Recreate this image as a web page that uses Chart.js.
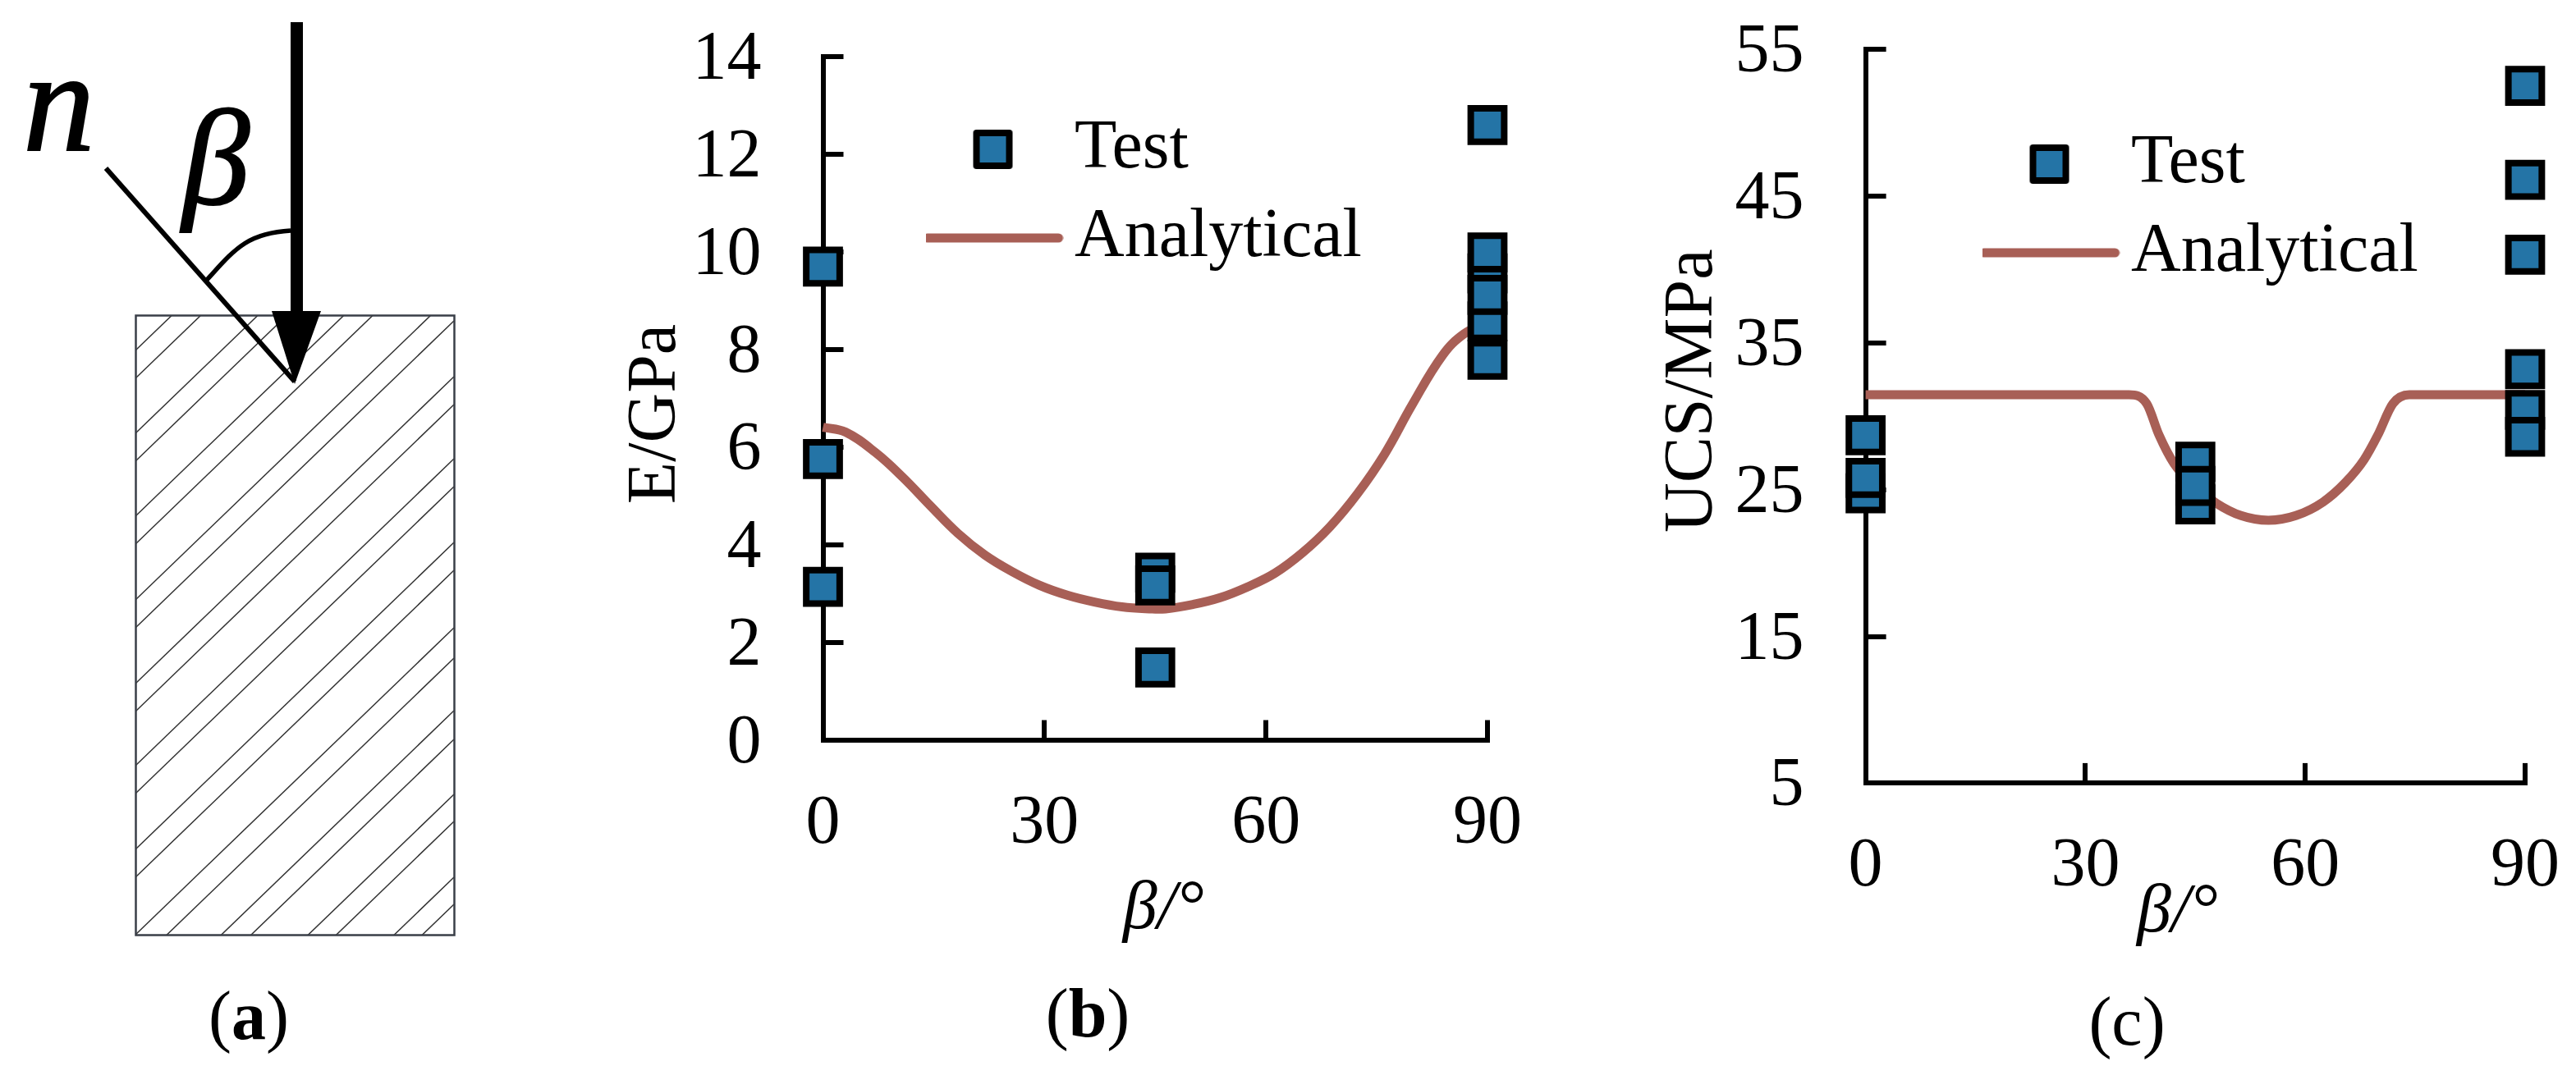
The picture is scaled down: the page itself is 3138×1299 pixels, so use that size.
<!DOCTYPE html>
<html><head><meta charset="utf-8">
<script src="https://cdn.jsdelivr.net/npm/chart.js@4"></script>
<style>
html,body{margin:0;padding:0;background:#fff;width:3138px;height:1299px;overflow:hidden}
canvas{position:absolute;top:0}
svg{position:absolute;left:0;top:0}
.cap{position:absolute;font:84px "Liberation Serif";line-height:84px;color:#000;white-space:nowrap;transform:translateX(-50%)}
.cap b{font-weight:bold}
</style></head><body>
<svg width="640" height="1299" viewBox="0 0 640 1299">
  <defs><clipPath id="box"><rect x="165" y="384" width="388" height="755"/></clipPath></defs>
  <g id="hatch" clip-path="url(#box)" stroke="#333" stroke-width="1.5" fill="none"></g>
  <path d="M165.5 384.5H553.5V1139.5H165.5Z" fill="none" stroke="#3a3f48" stroke-width="2.5"/>
  <path d="M129 205L359 465" stroke="#000" stroke-width="6" fill="none"/>
  <path d="M252 341C285 305 300 284 354 281" stroke="#000" stroke-width="5.5" fill="none"/>
  <rect x="354" y="27" width="15" height="355" fill="#000"/>
  <path d="M331 379H391L359 468Z" fill="#000"/>
  <text x="28" y="183" font-family="Liberation Serif" font-style="italic" font-size="175" stroke="#000" stroke-width="2">n</text>
  <text x="222" y="248" font-family="Liberation Serif" font-style="italic" font-size="165" stroke="#000" stroke-width="2">β</text>
</svg>
<canvas id="chartB" width="1220" height="1299" style="left:740px;width:1220px;height:1299px"></canvas>
<canvas id="chartC" width="1148" height="1299" style="left:1990px;width:1148px;height:1299px"></canvas>
<div class="cap" style="left:303px;top:1196px">(<b>a</b>)</div>
<div class="cap" style="left:1325px;top:1193px">(<b>b</b>)</div>
<div class="cap" style="left:2591px;top:1203px">(c)</div>
<script>
// ---------- data ----------
const seriesNames = ['Test', 'Analytical'];
const xTicksStep = 30;

const testBetaB = [0, 0, 0, 45, 45, 45, 90, 90, 90, 90, 90, 90];
const testEB    = [9.7, 5.76, 3.14, 1.49, 3.43, 3.17, 12.6, 9.56, 8.58, 9.99, 9.12, 7.79];
const lineBetaB = [0, 3.06, 7.13, 10.84, 14.55, 18.25, 21.96, 25.66, 29.37, 33.08, 36.78, 40.5, 44.2, 46.4, 50.1, 53.8, 57.5, 61.2, 64.95, 68.66, 72.4, 76.07, 79.8, 83.9, 86.8, 90];
const lineEB    = [6.41, 6.31, 5.89, 5.38, 4.8, 4.24, 3.79, 3.45, 3.17, 2.97, 2.83, 2.73, 2.69, 2.69, 2.78, 2.92, 3.14, 3.42, 3.84, 4.37, 5.05, 5.86, 6.87, 7.88, 8.32, 8.55];

const testBetaC = [0, 0, 0, 45, 45, 45, 90, 90, 90, 90, 90, 90];
const testUCS   = [28.7, 24.75, 25.8, 26.9, 24, 25.25, 52.5, 46.1, 41, 33.2, 30.43, 28.6];
const lineBetaC = [0, 35.93, 38.36, 40.04, 42.09, 45, 47.88, 51.24, 54.97, 58.71, 62.44, 65.43, 68.04, 69.91, 71.96, 74.2, 90];
const lineUCS   = [31.46, 31.46, 30.86, 28.72, 26.77, 25.2, 24.07, 23.23, 22.91, 23.23, 24.16, 25.46, 27.05, 28.72, 30.86, 31.46, 31.46];

// hatching of the schematic: left-edge crossing of each line
const hatchOffsets = [427,461,528,562,629,663,731,765,833,867,933,967,1035,1069,1139,1176,1240,1275,1342,1375,1443,1476];

// ---------- schematic ----------
const hatch = document.getElementById('hatch');
hatchOffsets.forEach(y => {
  const l = document.createElementNS('http://www.w3.org/2000/svg', 'line');
  l.setAttribute('x1', 165); l.setAttribute('y1', y);
  l.setAttribute('x2', 553); l.setAttribute('y2', y - 374);
  hatch.appendChild(l);
});

// ---------- charts ----------
const BLUE = '#2474a6', RED = '#a85f56';
const FONT = {family: '"Liberation Serif"', size: 84, lineHeight: 1};

function legendGlyph(kind) {
  const c = document.createElement('canvas');
  c.width = 172; c.height = 56;
  const g = c.getContext('2d');
  if (kind === 0) {
    g.fillStyle = BLUE; g.strokeStyle = '#000'; g.lineWidth = 8; g.lineJoin = 'round';
    g.fillRect(66, 8, 40, 40); g.strokeRect(66, 8, 40, 40);
  } else {
    g.strokeStyle = RED; g.lineWidth = 11; g.lineCap = 'round';
    g.beginPath(); g.moveTo(6, 28); g.lineTo(166, 28); g.stroke();
  }
  return c;
}

function clearPadding(s) { s.paddingLeft = s.paddingRight = s.paddingTop = s.paddingBottom = 0; }

function shiftLabels(scale, dy) {
  if (scale._labelsShifted) return;
  scale._labelsShifted = true;
  const orig = scale._computeLabelItems;
  scale._computeLabelItems = function (area) {
    const items = orig.call(this, area);
    items.forEach(it => { it.options.translation = [it.options.translation[0], it.options.translation[1] + dy]; });
    return items;
  };
}

function shiftTitle(scale, dx, dy) {
  if (scale._titleShifted) return;
  scale._titleShifted = true;
  const orig = scale.drawTitle;
  scale.drawTitle = function () {
    const saved = [this.left, this.right, this.top, this.bottom];
    if (this.isHorizontal()) { this.left += dx; this.right += dx; }
    else { this.top += dy; this.bottom += dy; }
    orig.call(this);
    [this.left, this.right, this.top, this.bottom] = saved;
  };
}

function makeChart(id, cfg) {
  return new Chart(document.getElementById(id), {
    type: 'scatter',
    data: {datasets: [
      {label: seriesNames[0], data: cfg.testX.map((x, i) => ({x, y: cfg.testY[i]})),
       showLine: false, pointStyle: 'rect', pointRadius: 28.8, pointBorderWidth: 8,
       pointBackgroundColor: BLUE, pointBorderColor: '#000', clip: false},
      {label: seriesNames[1], data: cfg.lineX.map((x, i) => ({x, y: cfg.lineY[i]})),
       showLine: true, pointRadius: 0, borderColor: RED, backgroundColor: RED, borderWidth: 11,
       cubicInterpolationMode: cfg.interp, tension: 0.4, clip: false}
    ]},
    options: {
      responsive: false, animation: false, events: [],
      devicePixelRatio: 1,
      layout: {padding: {left: 0, top: cfg.top, right: cfg.right, bottom: 0}},
      plugins: {
        tooltip: {enabled: false},
        legend: {
          position: 'chartArea', align: 'start',
          labels: {
            font: FONT, color: '#000', usePointStyle: true, pointStyleWidth: 115, padding: 24,
            generateLabels: ch => ch.data.datasets.map((d, i) => ({text: d.label, datasetIndex: i, pointStyle: legendGlyph(i), hidden: false, fontColor: '#000'}))
          }
        }
      },
      scales: {
        x: {
          type: 'linear', min: 0, max: 90,
          afterFit: s => { s.height = 1299 - cfg.bottomY; clearPadding(s); shiftTitle(s, cfg.xTitleShift, 0); },
          ticks: {stepSize: xTicksStep, color: '#000', font: FONT, padding: 85, maxRotation: 0, autoSkip: false},
          grid: {drawOnChartArea: false, drawTicks: true, tickLength: -24.5, color: '#000', lineWidth: 6},
          border: {color: '#000', width: 6},
          title: {display: true, text: 'β/°', color: '#000', font: {...FONT, style: 'italic'}, padding: {top: 0, bottom: cfg.xTitlePad}}
        },
        y: {
          type: 'linear', min: cfg.yMin, max: cfg.yMax,
          afterFit: s => { s.width = cfg.leftX; clearPadding(s); shiftLabels(s, 5); shiftTitle(s, 0, cfg.yTitleShift); },
          ticks: {stepSize: cfg.yStep, color: '#000', font: FONT, padding: 100, autoSkip: false},
          grid: {drawOnChartArea: false, drawTicks: true, tickLength: -25, color: '#000', lineWidth: 6},
          border: {color: '#000', width: 6},
          title: {display: true, text: cfg.yTitle, color: '#000', font: FONT, padding: {top: cfg.yTitlePad, bottom: 0}}
        }
      }
    },
    plugins: [{
      id: 'placeLegend',
      afterLayout(ch) { ch.legend.left = cfg.legendX; ch.legend.top = cfg.legendY; }
    }]
  });
}

makeChart('chartB', {
  testX: testBetaB, testY: testEB, lineX: lineBetaB, lineY: lineEB, interp: 'default',
  top: 69, right: 148, bottomY: 902, leftX: 262.5, yMin: 0, yMax: 14, yStep: 2, yTitle: 'E/GPa',
  yTitlePad: 18, xTitlePad: 148, xTitleShift: 10, yTitleShift: 19, legendX: 388, legendY: 116
});
makeChart('chartC', {
  testX: testBetaC, testY: testUCS, lineX: lineBetaC, lineY: lineUCS, interp: 'monotone',
  top: 60, right: 62, bottomY: 954.4, leftX: 282.6, yMin: 5, yMax: 55, yStep: 10, yTitle: 'UCS/MPa',
  yTitlePad: 31, xTitlePad: 144, xTitleShift: -22, yTitleShift: -31, legendX: 425, legendY: 134
});
</script>
</body></html>
